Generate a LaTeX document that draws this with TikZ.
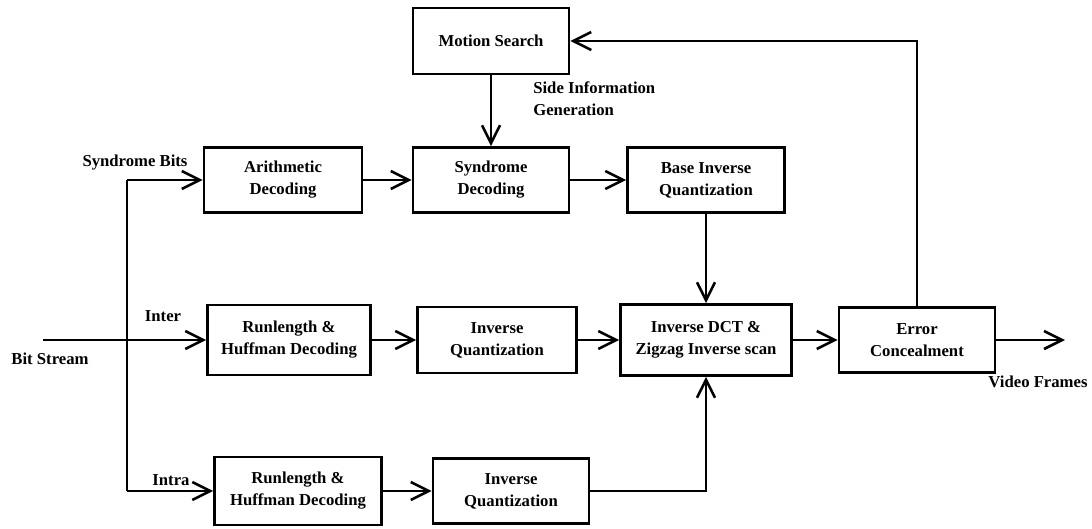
\documentclass[tikz,border=0pt]{standalone}
\usepackage{fontspec}
\setmainfont{Liberation Serif}
\usepackage{tikz}
\usetikzlibrary{arrows.meta, calc}

\begin{document}
\begin{tikzpicture}
      [
        x=0.02cm, y=-0.02cm,
        line width=1.5pt,
        >={Straight Barb[length=3.6mm,width=3.6mm,line width=1.5pt]},
        block/.style={draw, rectangle, align=center, inner sep=0pt,
          font=\fontsize{9.5}{12.5}\selectfont\bfseries},
        txt/.style={inner sep=0pt, align=left,
          font=\fontsize{9.5}{12.5}\selectfont\bfseries}
      ]
      \useasboundingbox (0,0) rectangle (1092,528);
      % boxes
      \node [block, minimum width=3.12cm, minimum height=1.32cm] (ms)   at (491,41)  {Motion Search};
      \node [block, minimum width=3.16cm, minimum height=1.3cm]  (ad)   at (283,180) {Arithmetic\\Decoding};
      \node [block, minimum width=3.12cm, minimum height=1.3cm]  (sd)   at (491,180) {Syndrome\\Decoding};
      \node [block, minimum width=3.14cm, minimum height=1.3cm]  (biq)  at (706,180) {Base Inverse\\Quantization};
      \node [block, minimum width=3.26cm, minimum height=1.4cm]  (rh1)  at (289,340) {Runlength \&\\Huffman Decoding};
      \node [block, minimum width=3.18cm, minimum height=1.32cm] (iq1)  at (497,340) {Inverse\\Quantization};
      \node [block, minimum width=3.42cm, minimum height=1.42cm] (idct) at (706,340) {Inverse DCT \&\\Zigzag Inverse scan};
      \node [block, minimum width=3.12cm, minimum height=1.3cm]  (ec)   at (917,340) {Error\\Concealment};
      \node [block, minimum width=3.34cm, minimum height=1.36cm] (rh2)  at (298,491) {Runlength \&\\Huffman Decoding};
      \node [block, minimum width=3.12cm, minimum height=1.3cm]  (iq2)  at (511,491) {Inverse\\Quantization};
      % points
      \coordinate (bs)   at (43,340);
      \coordinate (jtop) at (127,180);
      \coordinate (jbot) at (127,491);
      \coordinate (vf)   at (1065,340);
      % labels
      \node [txt] (lsb)  at (135,163) {Syndrome Bits};
      \node [txt] (lint) at (163,316) {Inter};
      \node [txt] (lbs)  at (50,359)  {Bit Stream};
      \node [txt] (lin)  at (171,480) {Intra};
      \node [txt, anchor=west] (lsi) at (532,99) {Side Information\\Generation};
      \node [txt] (lvf)  at (1038,382) {Video Frames};
      % arrows
      \draw (jtop) -- (jbot);
      \draw [->] (bs) -- (rh1);
      \draw [->] (jtop) -- (ad);
      \draw [->] (jbot) -- (rh2);
      \draw [->] (ad) -- (sd);
      \draw [->] (sd) -- (biq);
      \draw [->] (ms) -- (sd);
      \draw [->] (biq) -- (idct);
      \draw [->] (rh1) -- (iq1);
      \draw [->] (iq1) -- (idct);
      \draw [->] (idct) -- (ec);
      \draw [->] (rh2) -- (iq2);
      \draw [->] (iq2.east) -| (idct.south);
      \draw [->] (ec.north) |- (ms.east);
      \draw [->] (ec) -- (vf);
    \end{tikzpicture}
\end{document}
